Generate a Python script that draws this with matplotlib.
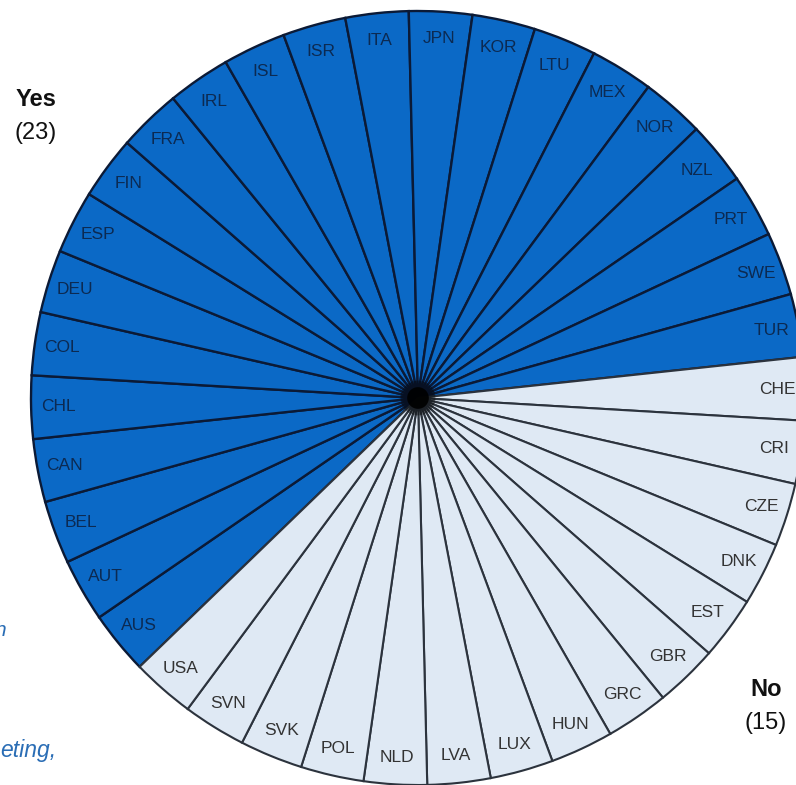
import matplotlib
matplotlib.use("Agg")
import matplotlib.pyplot as plt
from matplotlib.patches import Circle

yes_countries = ["AUS", "AUT", "BEL", "CAN", "CHL", "COL", "DEU", "ESP", "FIN", "FRA",
                 "IRL", "ISL", "ISR", "ITA", "JPN", "KOR", "LTU", "MEX", "NOR", "NZL",
                 "PRT", "SWE", "TUR"]
no_countries = ["CHE", "CRI", "CZE", "DNK", "EST", "GBR", "GRC", "HUN", "LUX", "LVA",
                "NLD", "POL", "SVK", "SVN", "USA"]
labels = yes_countries + no_countries
values = [1] * len(labels)
group_titles = ["Yes", "No"]
group_counts = ["(23)", "(15)"]

dark_blue = "#0b69c6"
light_blue = "#dfe9f4"
colors = [dark_blue] * len(yes_countries) + [light_blue] * len(no_countries)

plt.rcParams['font.family'] = ['Liberation Sans', 'DejaVu Sans']

fig = plt.figure(figsize=(7.96, 7.85), dpi=100)
ax = fig.add_axes([0, 0, 1, 1])

wedges, texts = ax.pie(values, labels=labels, colors=colors, startangle=224,
                       counterclock=False, labeldistance=0.93,
                       wedgeprops=dict(linewidth=1.7, edgecolor="#0b1a36"),
                       textprops=dict(fontsize=12.5, ha='center', va='center'))
for i, t in enumerate(texts):
    t.set_horizontalalignment('center')
    t.set_verticalalignment('center')
    if i < len(yes_countries):
        t.set_color("#0c2a52")
    else:
        t.set_color("#333333")
for i, w in enumerate(wedges):
    if i >= len(yes_countries):
        w.set_edgecolor("#2c333d")
        w.set_linewidth(1.5)

# dark convergence at centre
ax.add_patch(Circle((0, 0), 0.045, color="black", alpha=0.35, zorder=5, lw=0))
ax.add_patch(Circle((0, 0), 0.028, color="black", alpha=0.9, zorder=6, lw=0))

ax.set_aspect('auto')
ax.set_xlim(-418 / 387, (796 - 418) / 387)
ax.set_ylim(-1.0, 398 / 387)
ax.axis('off')

# Group labels
fig.text(36 / 796, 1 - 100 / 785, group_titles[0], fontsize=17,
         fontweight='bold', ha='center', va='center', color="#111111")
fig.text(36 / 796, 1 - 133 / 785, group_counts[0], fontsize=17,
         ha='center', va='center', color="#111111")
fig.text(766 / 796, 1 - 690 / 785, group_titles[1], fontsize=17,
         fontweight='bold', ha='center', va='center', color="#111111")
fig.text(766 / 796, 1 - 723 / 785, group_counts[1], fontsize=17,
         ha='center', va='center', color="#111111")

# Cropped fragments of side text
fig.text(0 / 796, 1 - 750 / 785, "eting,", fontsize=16.5, style='italic',
         ha='left', va='center', color="#2a6db5")
fig.text(-5 / 796, 1 - 631 / 785, "n", fontsize=15, style='italic',
         ha='left', va='center', color="#2a6db5")

fig.savefig("out.png", dpi=100)
